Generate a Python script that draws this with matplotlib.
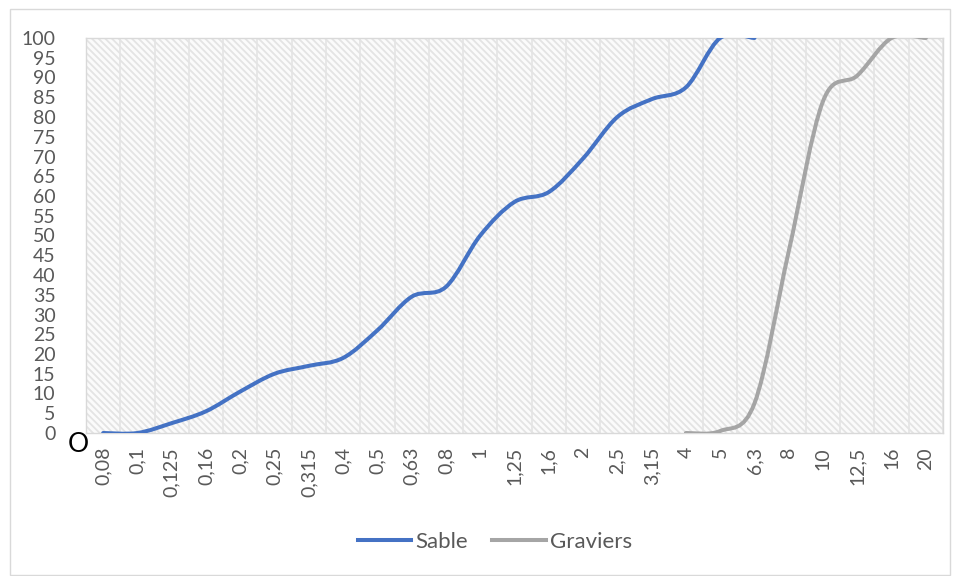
"""Courbes granulométriques Sable / Graviers (style Excel, lignes lissées)."""
import matplotlib
matplotlib.use("Agg")
import matplotlib.pyplot as plt
import numpy as np
from matplotlib.lines import Line2D
from matplotlib.patches import PathPatch, Rectangle
from matplotlib.path import Path

plt.rcParams["font.family"] = ["Lato", "DejaVu Sans"]
plt.rcParams["hatch.linewidth"] = 1.3

# tamis (mm), axe de catégories
sieves = ["0,08", "0,1", "0,125", "0,16", "0,2", "0,25", "0,315", "0,4", "0,5",
          "0,63", "0,8", "1", "1,25", "1,6", "2", "2,5", "3,15", "4", "5",
          "6,3", "8", "10", "12,5", "16", "20"]
# tamisats cumulés (%)
sable = [0, 0, 2.5, 5.5, 10.5, 15, 17, 19, 26, 34.5, 37, 50, 58.5, 61, 69.5,
         80, 84.5, 87.5, 100, 100]
graviers = [0, 0.5, 7.5, 46, 84, 90.5, 100, 100]
graviers_start = sieves.index("4")

BLUE, GREY = "#4472C4", "#A5A5A5"
TXT = "#595959"


def smooth_path(xs, ys):
    """Excel-like smoothed line: cubic Bezier through every point."""
    xs, ys = np.asarray(xs, float), np.asarray(ys, float)
    pts = np.column_stack([xs, ys])
    ext = np.vstack([pts[:1], pts, pts[-1:]])
    verts, codes = [pts[0]], [Path.MOVETO]
    for i in range(len(pts) - 1):
        p0, p1, p2, p3 = ext[i], ext[i + 1], ext[i + 2], ext[i + 3]
        verts += [p1 + (p2 - p0) / 6, p2 - (p3 - p1) / 6, p2]
        codes += [Path.CURVE4] * 3
    return Path(verts, codes)


fig = plt.figure(figsize=(9.6, 5.76), dpi=100)
fig.patches.append(Rectangle((10 / 960, 0.002), 0.99 - 10 / 960, 0.982,
                             transform=fig.transFigure, fill=False,
                             ec="#d9d9d9", lw=1))
ax = fig.add_axes([86 / 960, 143 / 576, 857 / 960, 395 / 576])

n = len(sieves)
ax.set_xlim(-0.5, n - 0.5)
ax.set_ylim(0, 100)

# fond hachuré de la zone de traçage
ax.add_patch(Rectangle((-0.5, 0), n, 100, facecolor="#fbfbfb", edgecolor="#e4e4e4",
                       hatch="\\\\\\\\\\", lw=0, zorder=0))
for xv in np.arange(-0.5, n, 1):
    ax.axvline(xv, color="#e4e4e4", lw=1.2, zorder=0.5)

xs_sable = np.arange(len(sable))
xs_grav = np.arange(graviers_start, graviers_start + len(graviers))
ax.add_patch(PathPatch(smooth_path(xs_sable, sable), fill=False, ec=BLUE,
                       lw=2.9, capstyle="round", zorder=3))
ax.add_patch(PathPatch(smooth_path(xs_grav, graviers), fill=False, ec=GREY,
                       lw=2.9, capstyle="round", zorder=3))

ax.set_xticks(range(n))
ax.set_xticklabels(sieves, rotation=90, fontsize=14, color=TXT)
ax.set_yticks(range(0, 101, 5))
ax.set_yticklabels([str(v) for v in range(0, 101, 5)], fontsize=14, color=TXT)
ax.tick_params(length=0, pad=10)
ax.tick_params(axis="y", pad=22)
for s in ax.spines.values():
    s.set_color("#d9d9d9")
    s.set_linewidth(1)

fig.text(78 / 960, 1 - 444 / 576, "O", fontsize=19, color="black",
         ha="center", va="center")

handles = [Line2D([], [], color=BLUE, lw=2.9), Line2D([], [], color=GREY, lw=2.9)]
fig.legend(handles, ["Sable", "Graviers"], loc="center",
           bbox_to_anchor=(495 / 960, 1 - 542 / 576), ncol=2, frameon=False,
           fontsize=16, labelcolor=TXT, handlelength=2.4, handletextpad=0.2,
           columnspacing=1.1)

fig.savefig("out.png", dpi=100)
